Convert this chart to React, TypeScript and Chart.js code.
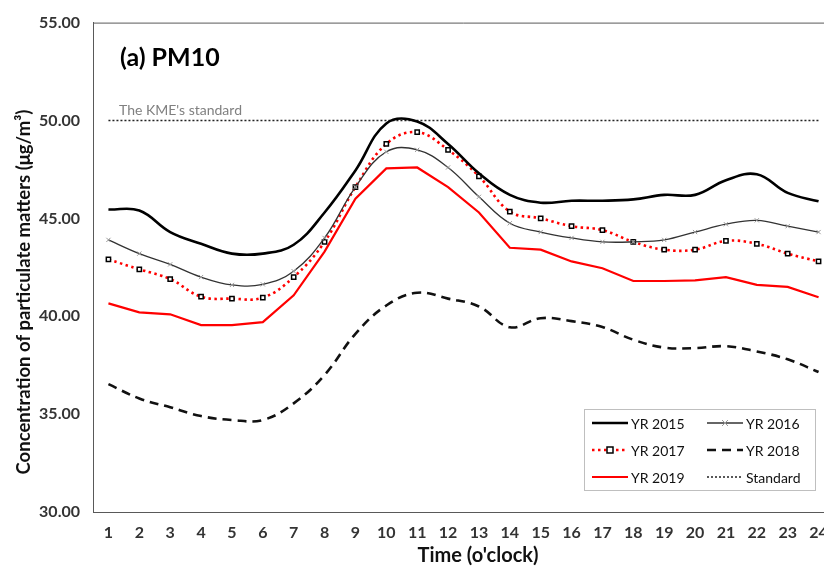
import React, { useEffect, useRef } from "react";
import { Chart, registerables } from "chart.js";

Chart.register(...registerables);

const hours = ["1","2","3","4","5","6","7","8","9","10","11","12","13","14","15","16","17","18","19","20","21","22","23","24"];
const yr2015 = [45.45, 45.4, 44.3, 43.7, 43.2, 43.2, 43.65, 45.3, 47.45, 49.85, 49.95, 48.8, 47.3, 46.2, 45.8, 45.9, 45.9, 45.97, 46.2, 46.2, 46.95, 47.25, 46.3, 45.87];
const yr2016 = [43.9, 43.2, 42.65, 42.0, 41.6, 41.63, 42.3, 44.0, 46.6, 48.4, 48.5, 47.6, 46.1, 44.75, 44.3, 44.0, 43.8, 43.8, 43.9, 44.3, 44.7, 44.9, 44.6, 44.3];
const yr2017 = [42.9, 42.4, 41.9, 41.0, 40.9, 40.95, 42.0, 43.8, 46.6, 48.8, 49.4, 48.5, 47.15, 45.35, 45.0, 44.6, 44.4, 43.8, 43.4, 43.4, 43.85, 43.7, 43.2, 42.8];
const yr2018 = [36.53, 35.8, 35.35, 34.9, 34.7, 34.7, 35.55, 37.0, 39.1, 40.55, 41.2, 40.9, 40.5, 39.44, 39.9, 39.75, 39.45, 38.8, 38.4, 38.37, 38.47, 38.2, 37.8, 37.15];
const yr2019 = [40.66, 40.2, 40.1, 39.55, 39.55, 39.7, 41.07, 43.3, 46.0, 47.55, 47.6, 46.6, 45.3, 43.5, 43.4, 42.8, 42.45, 41.8, 41.8, 41.83, 42.0, 41.6, 41.5, 40.97];
const standard = [50, 50, 50, 50, 50, 50, 50, 50, 50, 50, 50, 50, 50, 50, 50, 50, 50, 50, 50, 50, 50, 50, 50, 50];
const yTicks = [30, 35, 40, 45, 50, 55];

const chartTitle = "(a) PM10";
const standardText = "The KME's standard";
const yTitle = "Concentration of particulate matters (\u03bcg/m\u00b3)";
const xTitle = "Time (o'clock)";

const FONT = "Lato, 'Open Sans', sans-serif";

const decorPlugin = {
  id: "decor",
  afterDraw(chart: any) {
    const ctx = chart.ctx;
    const a = chart.chartArea;
    ctx.save();
    ctx.strokeStyle = "#595959";
    ctx.lineWidth = 1;
    ctx.beginPath();
    ctx.moveTo(a.left, a.top + 0.5);
    ctx.lineTo(a.right, a.top + 0.5);
    ctx.stroke();

    ctx.fillStyle = "#000";
    ctx.font = `bold 25px ${FONT}`;
    ctx.textBaseline = "middle";
    ctx.textAlign = "left";
    ctx.fillText(chartTitle, 120, 58);

    ctx.fillStyle = "#808080";
    ctx.font = `14px ${FONT}`;
    ctx.fillText(standardText, 119, 110);

    ctx.save();
    ctx.translate(24, 292);
    ctx.rotate(-Math.PI / 2);
    ctx.fillStyle = "#111";
    ctx.font = `bold 18.5px ${FONT}`;
    ctx.textAlign = "center";
    ctx.textBaseline = "middle";
    ctx.fillText(yTitle, 0, 0);
    ctx.restore();

    ctx.fillStyle = "#111";
    ctx.font = `bold 20px ${FONT}`;
    ctx.textAlign = "center";
    ctx.textBaseline = "middle";
    ctx.fillText(xTitle, 478, 556);

    const bx = 584, by = 409, bw = 231, bh = 81;
    ctx.fillStyle = "#fff";
    ctx.fillRect(bx, by, bw, bh);
    ctx.strokeStyle = "#bfbfbf";
    ctx.lineWidth = 1;
    ctx.strokeRect(bx + 0.5, by + 0.5, bw, bh);
    const cols = [592, 707];
    const rows = [423, 450, 477];
    const ds = chart.data.datasets;
    ds.forEach((d: any, i: number) => {
      const cx = cols[i % 2];
      const cy = rows[Math.floor(i / 2)];
      ctx.save();
      ctx.strokeStyle = d.borderColor;
      ctx.lineWidth = d.borderWidth;
      ctx.setLineDash(d.borderDash || []);
      ctx.beginPath();
      ctx.moveTo(cx, cy);
      ctx.lineTo(cx + 36, cy);
      ctx.stroke();
      ctx.setLineDash([]);
      if (d.pointStyle === "rect") {
        ctx.fillStyle = "#fff";
        ctx.strokeStyle = "#000";
        ctx.lineWidth = 1.5;
        ctx.fillRect(cx + 15, cy - 3, 6, 6);
        ctx.strokeRect(cx + 15, cy - 3, 6, 6);
      } else if (d.pointStyle === "crossRot") {
        ctx.strokeStyle = "#999";
        ctx.lineWidth = 1;
        ctx.beginPath();
        ctx.moveTo(cx + 15, cy - 3);
        ctx.lineTo(cx + 21, cy + 3);
        ctx.moveTo(cx + 21, cy - 3);
        ctx.lineTo(cx + 15, cy + 3);
        ctx.stroke();
      }
      ctx.fillStyle = "#111";
      ctx.font = `14px ${FONT}`;
      ctx.textAlign = "left";
      ctx.textBaseline = "middle";
      ctx.fillText(d.label, cx + 39, cy + 1);
      ctx.restore();
    });
    ctx.restore();
  },
};

export default function App() {
  const ref = useRef<HTMLCanvasElement | null>(null);
  useEffect(() => {
    if (!ref.current) return;
    const chart = new Chart(ref.current, {
      type: "line",
      data: {
        labels: hours,
        datasets: [
          { label: "YR 2015", data: yr2015, borderColor: "#000", borderWidth: 2.6, tension: 0.4, pointRadius: 0, pointStyle: false as any },
          { label: "YR 2016", data: yr2016, borderColor: "#333", borderWidth: 1.3, tension: 0.4, pointRadius: 3, pointStyle: "crossRot", pointBorderColor: "#999", pointBorderWidth: 1 },
          { label: "YR 2017", data: yr2017, borderColor: "#ff0000", borderWidth: 2.6, borderDash: [2.5, 3.5], tension: 0.4, pointRadius: 3, pointStyle: "rect", pointBackgroundColor: "#fff", pointBorderColor: "#000", pointBorderWidth: 1.5 },
          { label: "YR 2018", data: yr2018, borderColor: "#111", borderWidth: 2.6, borderDash: [9, 6], tension: 0.4, pointRadius: 0, pointStyle: false as any },
          { label: "YR 2019", data: yr2019, borderColor: "#ff0000", borderWidth: 2.2, tension: 0, pointRadius: 0, pointStyle: false as any },
          { label: "Standard", data: standard, borderColor: "#222", borderWidth: 1.6, borderDash: [2, 2], tension: 0, pointRadius: 0, pointStyle: false as any },
        ],
      },
      options: {
        responsive: false,
        animation: false,
        devicePixelRatio: 1,
        layout: { padding: { top: 22, right: 11, left: 0, bottom: 0 } },
        plugins: { legend: { display: false }, tooltip: { enabled: false } },
        scales: {
          x: {
            offset: true,
            grid: { display: false, drawTicks: false },
            border: { display: true, color: "#595959", width: 1 },
            ticks: { padding: 11, color: "#333", font: { family: FONT, size: 16, weight: "bold" }, maxRotation: 0, autoSkip: false },
            afterFit: (s: any) => { s.height = 57; },
          },
          y: {
            min: 30,
            max: 55,
            afterBuildTicks: (s: any) => { s.ticks = yTicks.map((v) => ({ value: v })); },
            grid: { display: false, drawTicks: false },
            border: { display: true, color: "#595959", width: 1 },
            ticks: { padding: 13, color: "#333", font: { family: FONT, size: 16, weight: "bold" }, callback: (v: any) => Number(v).toFixed(2) },
            afterFit: (s: any) => { s.width = 93; },
          },
        },
      },
      plugins: [decorPlugin],
    });
    return () => chart.destroy();
  }, []);
  return (
    <div style={{ position: "fixed", left: 0, top: 0, width: 824, height: 569, overflow: "hidden", background: "#fff" }}>
      <canvas ref={ref} width={845} height={569} style={{ width: 845, height: 569, display: "block" }} />
    </div>
  );
}
